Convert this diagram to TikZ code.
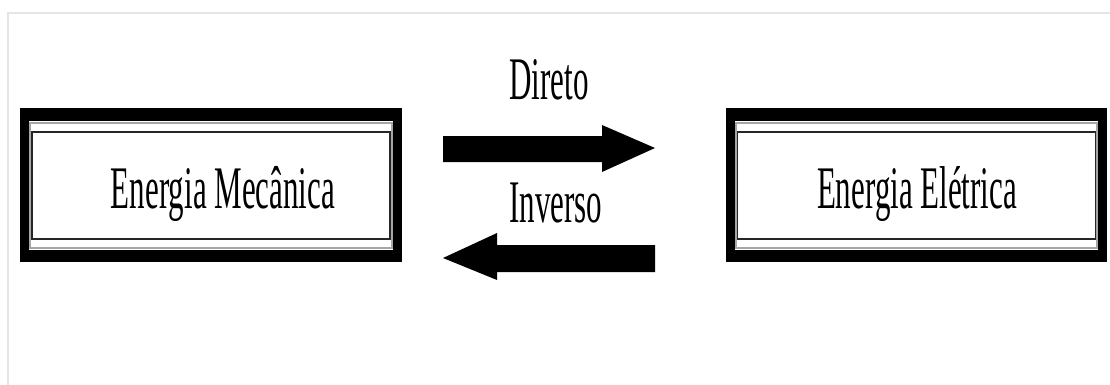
\documentclass[tikz,border=0pt]{standalone}
\usepackage{fontspec}
\setmainfont{Liberation Serif}
\begin{document}
\begin{tikzpicture}[x=1pt,y=-1pt,
  lbl/.style={font=\fontsize{31}{31}\selectfont, inner sep=0pt, anchor=base, yscale=1.95},
  blockarrow/.style={fill=black, draw=none},
  framebox/.style={draw=none},
]
\useasboundingbox (0,0) rectangle (1110,385);
\fill[white] (0,0) rectangle (1110,385);
% page frame
\draw[gray!20, line width=2pt] (8,385) -- (8,13) -- (1110,13);

% left box
\fill[black] (20,108) rectangle (402,262);
\fill[white] (29,121) rectangle (393,250);
\draw[gray!70, line width=1.6pt] (29.8,122.8) rectangle (392.2,248.2);
\draw[black!85, line width=1.3pt] (32,132) rectangle (390,239);
\node[framebox, minimum width=358pt, minimum height=107pt] (mec) at (211,185.5) {};
\node[lbl] (mect) at (223,208) {Energia Mecânica};

% right box
\fill[black] (726,108) rectangle (1107,262);
\fill[white] (735,121) rectangle (1098,250);
\draw[gray!70, line width=1.6pt] (735.8,122.8) rectangle (1097.2,248.2);
\draw[black!85, line width=1.3pt] (737.5,132) rectangle (1095.5,239);
\node[framebox, minimum width=358pt, minimum height=107pt] (ele) at (916.5,185.5) {};
\node[lbl] (elet) at (917,208) {Energia Elétrica};

% arrows
\coordinate (d0) at (443,149);
\coordinate (d1) at (655,148);
\fill[blockarrow] (443,136) -- (602,136) -- (602,125) -- (d1) -- (602,172) -- (602,162) -- (443,162) -- cycle;
\coordinate (i0) at (655,258);
\coordinate (i1) at (443,258);
\fill[blockarrow] (655,245) -- (497,245) -- (497,233) -- (i1) -- (497,280) -- (497,272) -- (655,272) -- cycle;

\node[lbl] (dir) at (549,100) {Direto};
\node[lbl] (inv) at (556,222) {Inverso};
\end{tikzpicture}
\end{document}
